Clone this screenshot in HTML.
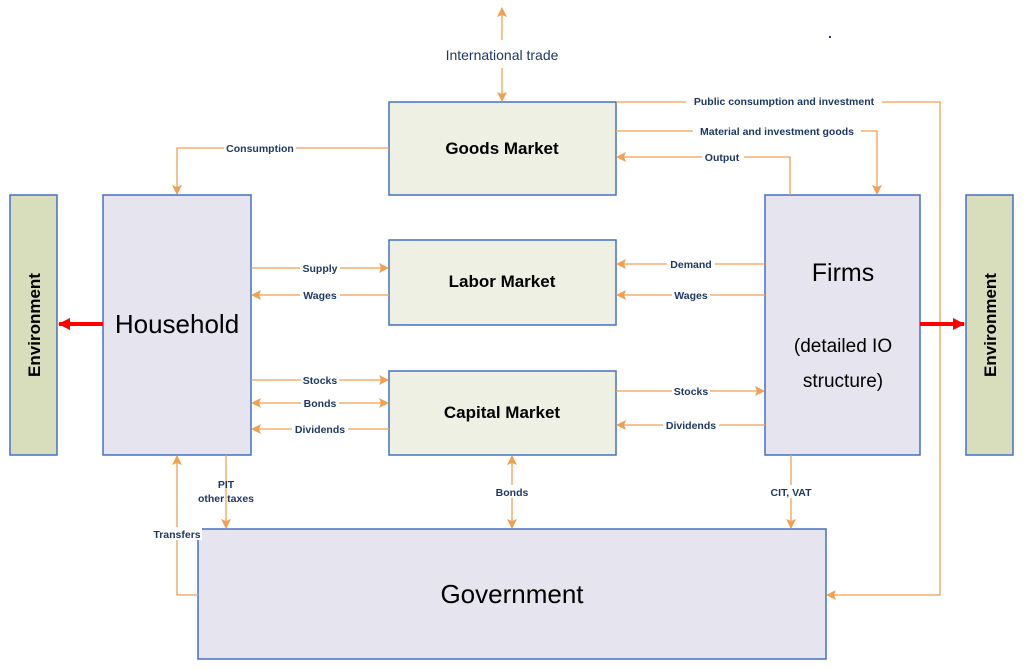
<!DOCTYPE html>
<html><head><meta charset="utf-8"><style>
body{margin:0;background:#fff;}
svg{display:block;font-family:"Liberation Sans",sans-serif;}
.l{font-size:10.5px;font-weight:bold;fill:#1f3864;text-anchor:middle;}
.t{font-weight:bold;fill:#000;text-anchor:middle;}
</style></head><body>
<svg width="1024" height="670" viewBox="0 0 1024 670" xmlns="http://www.w3.org/2000/svg">
<defs>
<marker id="a" markerWidth="10" markerHeight="10" refX="9" refY="5" orient="auto-start-reverse" markerUnits="userSpaceOnUse"><path d="M0,0 L10,5 L0,10 L2,5 Z" fill="#f0a050"/></marker>
<marker id="r" markerWidth="12" markerHeight="12" refX="11" refY="6" orient="auto" markerUnits="userSpaceOnUse"><path d="M0,0 L12,6 L0,12 Z" fill="#f00"/></marker>
</defs>
<g stroke="#4472c4" stroke-width="1.5">
<rect x="10" y="195" width="47" height="260" fill="#d8ddbc"/>
<rect x="966" y="195" width="47" height="260" fill="#d8ddbc"/>
<rect x="103" y="195" width="148" height="260" fill="#e6e4ef"/>
<rect x="765" y="195" width="155" height="260" fill="#e6e4ef"/>
<rect x="389" y="102" width="227" height="93" fill="#eef0e3"/>
<rect x="389" y="240" width="227" height="85" fill="#eef0e3"/>
<rect x="389" y="371" width="227" height="84" fill="#eef0e3"/>
<rect x="198" y="529" width="628" height="130" fill="#e6e4ef"/>
</g>
<g stroke="#f0a050" stroke-width="1.3" fill="none">
<line x1="502" y1="40" x2="502" y2="8" marker-end="url(#a)"/>
<line x1="502" y1="68" x2="502" y2="101" marker-end="url(#a)"/>
<polyline points="616,102 940,102 940,595 827,595" marker-end="url(#a)"/>
<polyline points="616,131 877,131 877,194" marker-end="url(#a)"/>
<polyline points="790,195 790,157 617,157" marker-end="url(#a)"/>
<polyline points="389,148 177,148 177,194" marker-end="url(#a)"/>
<line x1="251" y1="268" x2="388" y2="268" marker-end="url(#a)"/>
<line x1="389" y1="295" x2="252" y2="295" marker-end="url(#a)"/>
<line x1="765" y1="264" x2="617" y2="264" marker-end="url(#a)"/>
<line x1="765" y1="295" x2="617" y2="295" marker-end="url(#a)"/>
<line x1="251" y1="380" x2="388" y2="380" marker-end="url(#a)"/>
<line x1="252" y1="403" x2="388" y2="403" marker-start="url(#a)" marker-end="url(#a)"/>
<line x1="389" y1="429" x2="252" y2="429" marker-end="url(#a)"/>
<line x1="616" y1="391" x2="764" y2="391" marker-end="url(#a)"/>
<line x1="765" y1="425" x2="617" y2="425" marker-end="url(#a)"/>
<polyline points="198,595 177,595 177,456" marker-end="url(#a)"/>
<line x1="226" y1="455" x2="226" y2="528" marker-end="url(#a)"/>
<line x1="512" y1="456" x2="512" y2="528" marker-start="url(#a)" marker-end="url(#a)"/>
<line x1="791" y1="455" x2="791" y2="528" marker-end="url(#a)"/>
</g>
<g stroke="#f00" stroke-width="4">
<line x1="103" y1="324" x2="59" y2="324" marker-end="url(#r)"/>
<line x1="920" y1="324" x2="964" y2="324" marker-end="url(#r)"/>
</g>
<g class="l">
<text x="502" y="60" style="font-size:14px;font-weight:normal;fill:#1f3864">International trade</text>
<rect x="686" y="95" width="196" height="12" fill="#fff"/><text x="784" y="105">Public consumption and investment</text>
<rect x="693" y="124" width="168" height="12" fill="#fff"/><text x="777" y="135">Material and investment goods</text>
<rect x="702" y="150" width="42" height="12" fill="#fff"/><text x="722" y="161">Output</text>
<rect x="224" y="141" width="72" height="12" fill="#fff"/><text x="260" y="152">Consumption</text>
<rect x="300" y="261" width="40" height="12" fill="#fff"/><text x="320" y="272">Supply</text>
<rect x="300" y="288" width="40" height="12" fill="#fff"/><text x="320" y="299">Wages</text>
<rect x="667" y="257" width="48" height="12" fill="#fff"/><text x="691" y="268">Demand</text>
<rect x="672" y="288" width="38" height="12" fill="#fff"/><text x="691" y="299">Wages</text>
<rect x="301" y="373" width="38" height="12" fill="#fff"/><text x="320" y="384">Stocks</text>
<rect x="301" y="396" width="38" height="12" fill="#fff"/><text x="320" y="407">Bonds</text>
<rect x="292" y="422" width="56" height="12" fill="#fff"/><text x="320" y="433">Dividends</text>
<rect x="672" y="384" width="38" height="12" fill="#fff"/><text x="691" y="395">Stocks</text>
<rect x="663" y="418" width="56" height="12" fill="#fff"/><text x="691" y="429">Dividends</text>
<text x="226" y="488">PIT</text><text x="226" y="502">other taxes</text>
<rect x="152" y="527" width="50" height="13" fill="#fff"/><text x="177" y="538">Transfers</text>
<rect x="494" y="485" width="36" height="13" fill="#fff"/><text x="512" y="496">Bonds</text>
<rect x="766" y="485" width="50" height="13" fill="#fff"/><text x="791" y="496">CIT, VAT</text>
</g>
<g class="t">
<text x="502" y="154" font-size="17">Goods Market</text>
<text x="502" y="287" font-size="17">Labor Market</text>
<text x="502" y="418" font-size="17">Capital Market</text>
<text x="177" y="333" font-size="26" font-weight="normal">Household</text>
<text x="843" y="281" font-size="25" font-weight="normal">Firms</text>
<text x="843" y="352" font-size="19" font-weight="normal">(detailed IO</text>
<text x="843" y="387" font-size="19" font-weight="normal">structure)</text>
<text x="512" y="603" font-size="26" font-weight="normal">Government</text>
<text transform="translate(40,325) rotate(-90)" font-size="17">Environment</text>
<text transform="translate(996,325) rotate(-90)" font-size="17">Environment</text>
</g>
<rect x="829" y="36" width="2" height="2" fill="#1f3864"/>
</svg>
</body></html>
